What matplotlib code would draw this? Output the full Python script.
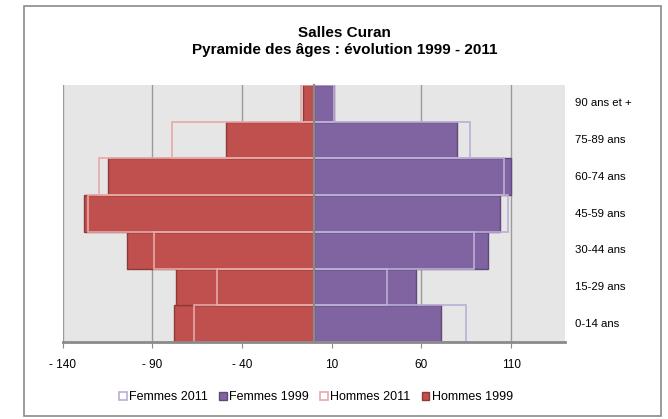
import matplotlib
matplotlib.use("Agg")
import matplotlib.pyplot as plt
from matplotlib.patches import Rectangle, Patch
import matplotlib.transforms as mtransforms
import numpy as np

plt.rcParams['font.family'] = ['Liberation Sans', 'DejaVu Sans']

categories = ["0-14 ans", "15-29 ans", "30-44 ans", "45-59 ans", "60-74 ans", "75-89 ans", "90 ans et +"]
hommes_1999 = [78, 77, 104, 128, 115, 49, 6]
hommes_2011 = [67, 54, 89, 126, 120, 79, 7]
femmes_1999 = [71, 57, 97, 104, 110, 80, 11]
femmes_2011 = [85, 41, 89, 108, 106, 87, 11]
tick_values = [-140, -90, -40, 10, 60, 110]
tick_labels = ["- 140", "- 90", "- 40", "10", "60", "110"]

c_h99 = "#c0504d"
c_h99_edge = "#8e3a38"
c_h11_edge = "#e6a9a8"
c_f99 = "#8064a2"
c_f99_edge = "#5f4a7a"
c_f11_edge = "#bcaed4"

fig = plt.figure(figsize=(6.68, 4.19), dpi=100)
fig.patches.append(Rectangle((24/668, 3/419), 637/668, 410/419, transform=fig.transFigure,
                             fill=False, edgecolor="#8a8a8a", linewidth=1.2))
ax = fig.add_axes([62.7/668, 1 - 342/419, (565 - 62.7)/668, (342 - 85)/419])
ax.set_facecolor("#e6e6e6")

y = np.arange(len(categories))
h = 1.0
ax.barh(y, [-v for v in hommes_1999], height=h, color=c_h99, edgecolor=c_h99_edge, linewidth=1, zorder=3)
ax.barh(y, femmes_1999, height=h, color=c_f99, edgecolor=c_f99_edge, linewidth=1, zorder=3)
ax.barh(y, [-v for v in hommes_2011], height=h, fill=False, edgecolor=c_h11_edge, linewidth=1.2, zorder=4)
ax.barh(y, femmes_2011, height=h, fill=False, edgecolor=c_f11_edge, linewidth=1.2, zorder=4)

ax.set_xlim(-140, 140)
ax.set_ylim(-0.5, len(categories) - 0.5)
ax.set_xticks(tick_values)
ax.set_xticklabels(tick_labels, fontsize=8.5)
ax.xaxis.grid(True, color="#9a9a9a", linewidth=1, zorder=1)
ax.set_axisbelow(True)
ax.tick_params(axis='x', length=4, color="#8a8a8a", pad=8)

for s in ['top', 'right']:
    ax.spines[s].set_visible(False)
ax.spines['bottom'].set_color("#8a8a8a")
ax.spines['bottom'].set_linewidth(2)
ax.spines['bottom'].set_zorder(5)
ax.spines['left'].set_position(('data', 0))
ax.spines['left'].set_color("#8a8a8a")
ax.spines['left'].set_linewidth(1.5)
ax.spines['left'].set_zorder(5)
ax.set_yticks(np.arange(-0.5, len(categories), 1.0))
ax.set_yticklabels([])
ax.tick_params(axis='y', length=3, color="#8a8a8a", direction='in')

trans = mtransforms.blended_transform_factory(ax.transAxes, ax.transData)
for i, c in enumerate(categories):
    ax.text(1.02, y[i], c, transform=trans, fontsize=8.2, va='center', ha='left')

fig.text(0.516, 1 - 33/419, "Salles Curan", ha='center', va='center', fontsize=11, fontweight='bold')
fig.text(0.516, 1 - 50/419, "Pyramide des âges : évolution 1999 - 2011", ha='center', va='center',
         fontsize=11, fontweight='bold')

handles = [
    Patch(facecolor='white', edgecolor=c_f11_edge, linewidth=1.2, label="Femmes 2011"),
    Patch(facecolor=c_f99, edgecolor=c_f99_edge, linewidth=1, label="Femmes 1999"),
    Patch(facecolor='white', edgecolor=c_h11_edge, linewidth=1.2, label="Hommes 2011"),
    Patch(facecolor=c_h99, edgecolor=c_h99_edge, linewidth=1, label="Hommes 1999"),
]
fig.legend(handles=handles, loc='center', bbox_to_anchor=(316/668, 1 - 397/419), ncol=4,
           frameon=False, fontsize=9, handlelength=0.6, handleheight=0.6,
           handletextpad=0.2, columnspacing=0.9)

fig.savefig("out.png", dpi=100)
